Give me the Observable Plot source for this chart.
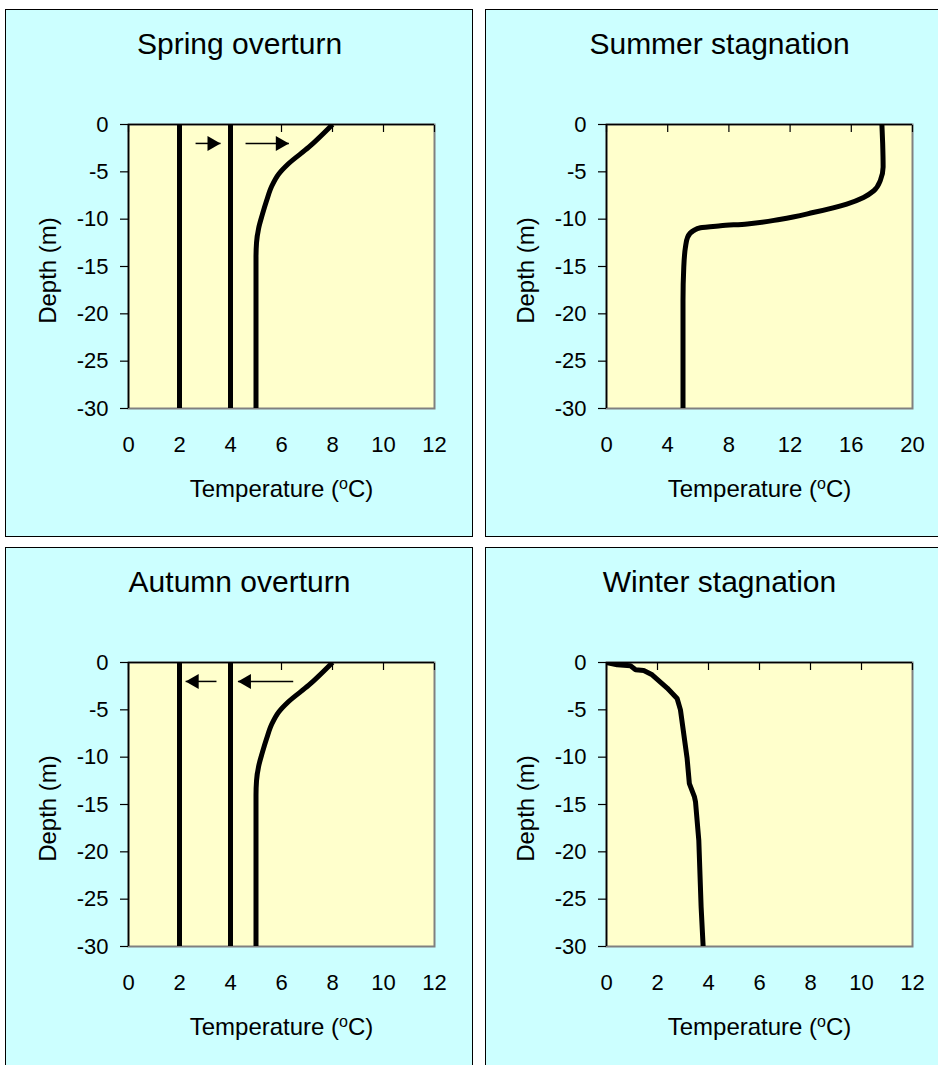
<!DOCTYPE html>
<html>
<head>
<meta charset="utf-8">
<script src="https://cdn.jsdelivr.net/npm/d3@7"></script>
<script src="https://cdn.jsdelivr.net/npm/@observablehq/plot@0.6"></script>
<style>
  html, body { margin: 0; padding: 0; background: #ffffff; }
  body { position: relative; width: 938px; height: 1065px; overflow: hidden; }
  .panel { position: absolute; box-sizing: border-box; width: 468px; height: 528px;
           border: 1px solid #000; background: #CCFFFF; overflow: hidden; }
  .panel svg { display: block; }
</style>
</head>
<body>
<div class="panel" id="p1" style="left:5px; top:9px;"></div>
<div class="panel" id="p2" style="left:485px; top:9px;"></div>
<div class="panel" id="p3" style="left:5px; top:547px;"></div>
<div class="panel" id="p4" style="left:485px; top:547px;"></div>
<script>
// ---- data ----
const depthTicks = [0, -5, -10, -15, -20, -25, -30];
const tempTicks12 = [0, 2, 4, 6, 8, 10, 12];
const tempTicks20 = [0, 4, 8, 12, 16, 20];

const isothermTemps = [2, 4];
const isothermDepths = [0, -30];

// overturn profile (spring & autumn)
const overturnT = [8.0, 7.07, 6.25, 5.9, 5.62, 5.42, 5.25, 5.1, 5.02, 5.0, 5.0];
const overturnD = [0, -2.4, -4.2, -5.2, -6.5, -8, -9.5, -11, -12.5, -14, -30];

// summer stagnation profile
const summerT = [18.0, 18.05, 18.08, 17.9, 17.47, 16.8, 15.7, 13.5, 11.4, 9.2, 7.45, 6.14, 5.7, 5.3, 5.16, 5.05, 5.0, 5.0];
const summerD = [0, -2, -4.5, -5.9, -7, -7.7, -8.4, -9.3, -10, -10.5, -10.7, -10.9, -11.2, -11.9, -12.96, -15.1, -18.6, -30];

// winter stagnation profile
const winterT = [0, 0.42, 0.94, 1.14, 1.46, 1.79, 2.38, 2.77, 2.9, 3.16, 3.25, 3.45, 3.49, 3.62, 3.71, 3.79];
const winterD = [0, -0.25, -0.35, -0.77, -0.84, -1.3, -2.7, -3.8, -5.0, -10.1, -12.8, -14.2, -14.7, -18.8, -25.8, -30];

// arrows (from -> to temperature at a depth)
const springArrowFrom = [2.63, 4.59];
const springArrowTo = [3.61, 6.29];
const autumnArrowFrom = [3.45, 6.46];
const autumnArrowTo = [2.24, 4.29];
const arrowDepth = -2;

const titles = ["Spring overturn", "Summer stagnation", "Autumn overturn", "Winter stagnation"];

// ---- helpers ----
const rows = (T, D, id) => T.map((t, i) => ({t, d: D[i], id}));
const isothermRows = isothermTemps.flatMap(t => isothermDepths.map(d => ({t, d, id: "iso" + t})));
const arrowRows = (from, to) => from.map((f, i) => ({t1: f, t2: to[i], d: arrowDepth}));

const FONT = "'Liberation Sans', Arial, Helvetica, sans-serif";

function panel({title, xMax, xTicks, lines, arrows, marginLeft}) {
  const W = 466, H = 526, PW = 306;
  const mt = 114, mb = 128, ml = marginLeft, mr = W - ml - PW;
  const titleDx = W / 2 - (ml + PW / 2);
  const marks = [
    Plot.frame({fill: "#FFFFCC", stroke: null}),
    Plot.frame({stroke: "#808080", strokeWidth: 2}),
    Plot.axisX({anchor: "top", ticks: xTicks, tickSize: 7, dy: 7, tickFormat: () => "", label: null, strokeWidth: 1.2}),
    Plot.axisX({anchor: "bottom", ticks: xTicks, tickSize: 0, tickPadding: 28, label: null, fontSize: 22, tickFormat: d => String(d)}),
    Plot.axisY({anchor: "left", ticks: depthTicks, tickSize: 8, tickPadding: 12, label: null, fontSize: 22, tickFormat: d => String(d), strokeWidth: 1.2}),
    Plot.ruleY([0], {stroke: "black", strokeWidth: 1.6}),
    Plot.ruleX([0], {stroke: "black", strokeWidth: 1.6})
  ];
  for (const L of lines) {
    marks.push(Plot.line(L.data, {x: "t", y: "d", z: "id", stroke: "black", strokeWidth: 5,
      curve: L.curve || "linear", clip: true, strokeLinecap: "butt"}));
  }
  if (arrows) {
    marks.push(Plot.link(arrows, {x1: "t1", x2: "t2", y1: "d", y2: "d", stroke: "black", strokeWidth: 1.5}));
    const right = arrows.filter(a => a.t2 > a.t1);
    const left = arrows.filter(a => a.t2 < a.t1);
    if (right.length) marks.push(Plot.dot(right, {x: "t2", y: "d", symbol: "triangle", r: 5.6, fill: "black", stroke: null, rotate: 90, dx: -8.7}));
    if (left.length) marks.push(Plot.dot(left, {x: "t2", y: "d", symbol: "triangle", r: 5.6, fill: "black", stroke: null, rotate: -90, dx: 8.7}));
  }
  marks.push(Plot.text([title], {text: d => d, frameAnchor: "top", dy: -80, dx: titleDx, fontSize: 30, lineAnchor: "middle", textAnchor: "middle", fill: "black"}));
  marks.push(Plot.text(["Depth (m)"], {text: d => d, frameAnchor: "left", dx: -80, dy: 4, rotate: -90, fontSize: 24, lineAnchor: "middle", textAnchor: "middle", fill: "black"}));
  marks.push(Plot.text(["Temperature (oC)"], {text: d => d, frameAnchor: "bottom", dy: 81, fontSize: 24, lineAnchor: "middle", textAnchor: "middle", fill: "black"}));

  const svg = Plot.plot({
    width: W, height: H,
    marginTop: mt, marginBottom: mb, marginLeft: ml, marginRight: mr,
    style: {background: "transparent", fontFamily: FONT, fontSize: "22px", color: "black", overflow: "visible"},
    x: {domain: [0, xMax]},
    y: {domain: [-30, 0]},
    marks
  });
  // superscript "o" in the temperature label
  svg.querySelectorAll("text").forEach(el => {
    if (el.textContent === "Temperature (oC)") {
      while (el.firstChild) el.removeChild(el.firstChild);
      const ns = "http://www.w3.org/2000/svg";
      const a = document.createElementNS(ns, "tspan"); a.textContent = "Temperature (";
      const b = document.createElementNS(ns, "tspan"); b.textContent = "o";
      b.setAttribute("font-size", "16"); b.setAttribute("dy", "-8");
      const c = document.createElementNS(ns, "tspan"); c.textContent = "C)"; c.setAttribute("dy", "8");
      el.append(a, b, c);
    }
  });
  return svg;
}

const overturnLines = [
  {data: isothermRows},
  {data: rows(overturnT, overturnD, "profile"), curve: "monotone-y"}
];

document.getElementById("p1").append(panel({
  title: titles[0], xMax: 12, xTicks: tempTicks12, marginLeft: 122,
  lines: overturnLines, arrows: arrowRows(springArrowFrom, springArrowTo)
}));
document.getElementById("p2").append(panel({
  title: titles[1], xMax: 20, xTicks: tempTicks20, marginLeft: 120,
  lines: [{data: rows(summerT, summerD, "summer"), curve: "monotone-y"}]
}));
document.getElementById("p3").append(panel({
  title: titles[2], xMax: 12, xTicks: tempTicks12, marginLeft: 122,
  lines: overturnLines, arrows: arrowRows(autumnArrowFrom, autumnArrowTo)
}));
document.getElementById("p4").append(panel({
  title: titles[3], xMax: 12, xTicks: tempTicks12, marginLeft: 120,
  lines: [{data: rows(winterT, winterD, "winter")}]
}));
</script>
</body>
</html>
